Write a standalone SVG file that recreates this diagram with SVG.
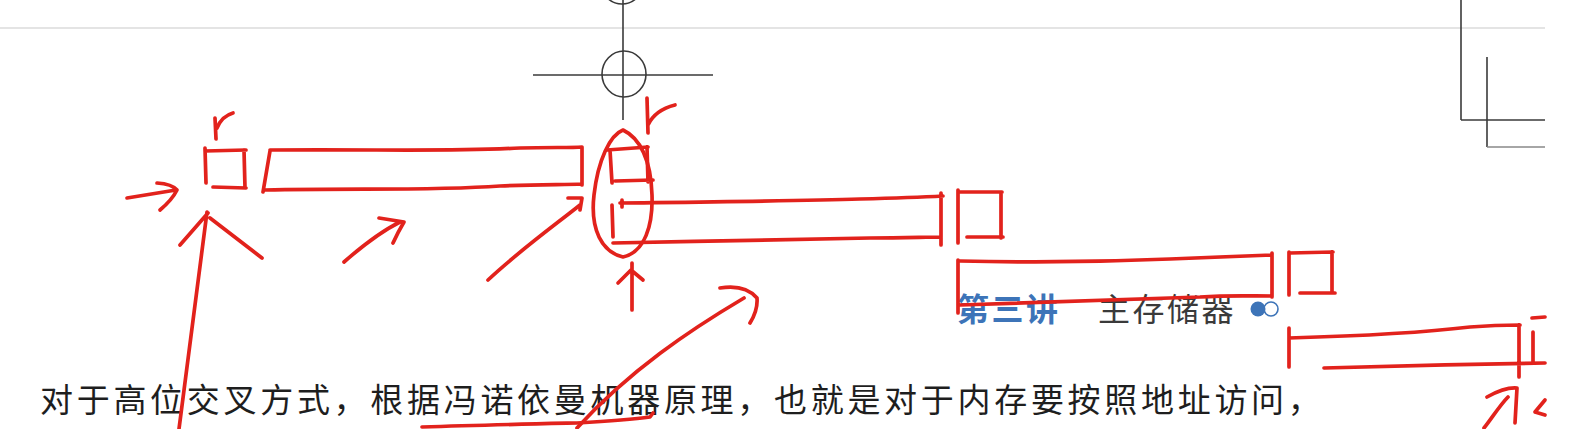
<svg xmlns="http://www.w3.org/2000/svg" width="1577" height="429" viewBox="0 0 1577 429">
<style>
.ink{fill:none;stroke:#e2221c;stroke-width:3.7;stroke-linecap:round;stroke-linejoin:round}
.thin{fill:none;stroke:#3a3a3a;stroke-width:1.6}
.body{font-family:"Noto Sans CJK SC","Noto Sans",sans-serif;font-size:33px;fill:#1e1e1e;letter-spacing:3.7px}
.head1{font-family:"Noto Sans CJK SC",sans-serif;font-size:32px;font-weight:bold;fill:#3d74b8;letter-spacing:2.5px}
.head2{font-family:"Noto Sans CJK SC",sans-serif;font-size:32px;fill:#3a3a3a;letter-spacing:2.5px}
</style>
<rect width="1577" height="429" fill="#ffffff"/>
<g id="page-frame">
<line x1="0" y1="28" x2="1545" y2="28" stroke="#e4e4e4" stroke-width="2"/>
<line class="thin" x1="1461" y1="0" x2="1461" y2="120"/>
<line class="thin" x1="1461" y1="120" x2="1545" y2="120"/>
<line class="thin" x1="1487" y1="57" x2="1487" y2="147"/>
<line x1="1487" y1="147" x2="1545" y2="147" stroke="#888" stroke-width="1.6"/>
</g>
<g id="crosshair">
<circle class="thin" cx="622" cy="-17" r="21"/>
<line class="thin" x1="623" y1="0" x2="623" y2="120"/>
<ellipse class="thin" cx="624" cy="74" rx="22" ry="23"/>
<line class="thin" x1="533" y1="75" x2="713" y2="75"/>
</g>
<g id="heading">
<text class="head1" x="957" y="321">第三讲</text>
<text class="head2" x="1098" y="321">主存储器</text>
<circle cx="1271" cy="309" r="7" fill="none" stroke="#3d74b8" stroke-width="1.6"/>
<circle cx="1258" cy="309" r="7.5" fill="#3d74b8"/>
</g>
<g id="body-text">
<text class="body" x="40" y="412">对于高位交叉方式，根据冯诺依曼机器原理，也就是对于内存要按照地址访问，</text>
</g>
<g id="module1">
<path class="ink" d="M215 118 L216 139 M217 128 Q222 116 233 113"/>
<path class="ink" d="M205 148 L206 183 M205 151 L246 150 M244 150 L245 188 M213 187 L246 188"/>
<path class="ink" d="M270 151 L263 192 M270 150 C380 149 440 152 520 148 C550 147 570 148 582 147 M582 147 L582 185 M265 190 C360 188 430 191 500 186 C540 184 565 185 582 184"/>
</g>
<g id="module2">
<path class="ink" d="M647 98 L648 133 M648 125 Q655 110 675 105"/>
<path class="ink" d="M607 150 L648 147 M610 150 L612 183 M647 147 L648 182 M615 181 L653 180"/>
<path class="ink" d="M623 130 C610 135 598 160 594 195 C590 230 602 252 623 257 C645 252 653 225 652 195 C651 160 640 138 623 130 Z"/>
<path class="ink" d="M622 200 L622 207 M612 205 L613 237 M620 203 C700 202 800 201 860 199 C900 198 925 197 943 196 M941 193 L941 245 M613 243 C700 241 800 240 870 238 C905 238 925 237 941 237"/>
</g>
<g id="module3">
<path class="ink" d="M958 190 L958 243 M958 192 L1002 192 M1001 192 L1001 238 M967 237 L1003 237"/>
<path class="ink" d="M958 260 L958 313 M960 261 C1040 263 1100 262 1170 259 C1220 257 1250 256 1272 255 M1272 253 L1272 297 M960 305 C1050 302 1130 300 1200 297 C1230 295 1250 296 1272 296"/>
</g>
<g id="module4">
<path class="ink" d="M1289 252 L1289 295 M1290 253 L1333 252 M1332 252 L1332 293 M1300 293 L1335 293"/>
<path class="ink" d="M1289 328 L1289 367 M1289 338 C1360 336 1420 333 1470 327 C1495 325 1510 325 1520 325 M1519 325 L1519 377 M1324 368 C1400 366 1470 364 1545 363"/>
<path class="ink" d="M1532 318 L1545 317 M1533 332 L1533 363"/>
</g>
<g id="connectors">
<path class="ink" d="M127 198 L176 190 M157 183 Q172 184 177 190 Q172 200 160 210"/>
<path class="ink" d="M207 212 L179 429 M180 245 L208 213 M210 218 L262 258"/>
<path class="ink" d="M344 262 C360 248 380 232 400 222 M379 218 L404 222 Q398 232 393 243"/>
<path class="ink" d="M488 280 C520 250 555 225 580 205 M568 198 L582 198 L580 210"/>
<path class="ink" d="M632 310 L632 263 M618 283 L631 270 L643 280"/>
<path class="ink" d="M577 428 C630 370 690 330 744 298 M720 288 Q745 284 757 298 Q758 310 750 323"/>
<path class="ink" d="M422 427 C480 425 530 424 577 423 C610 421 635 419 650 417 L653 413"/>
<path class="ink" d="M1484 428 C1492 418 1500 405 1508 397 M1487 397 Q1505 387 1517 388 L1515 423"/>
<path class="ink" d="M1545 400 L1535 412 L1545 415"/>
</g>
</svg>
